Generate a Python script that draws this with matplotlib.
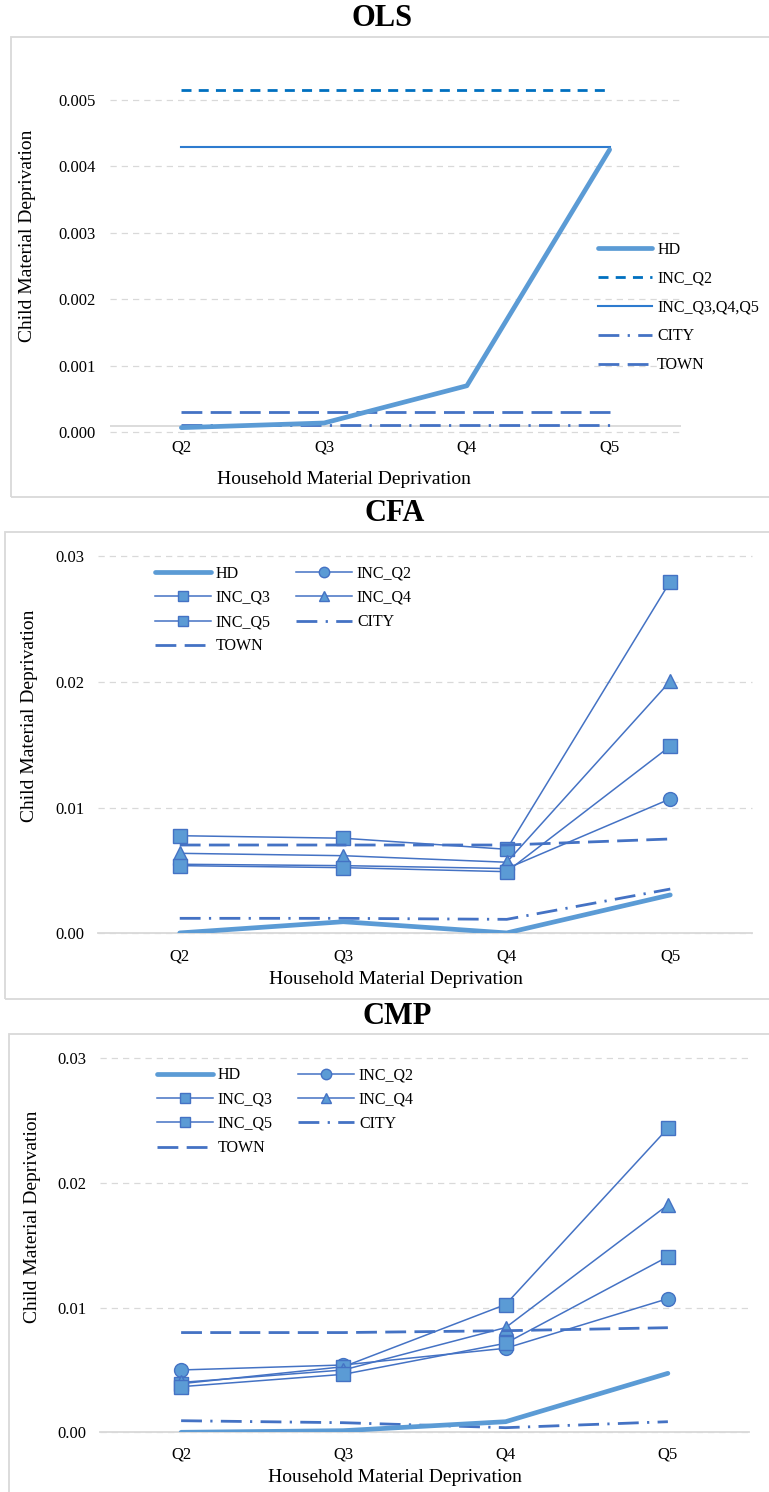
import matplotlib
matplotlib.use("Agg")
import matplotlib.pyplot as plt
from matplotlib.patches import Rectangle

plt.rcParams["font.family"] = ["Liberation Serif", "DejaVu Serif"]

W, H = 769, 1492

quintiles = ["Q2", "Q3", "Q4", "Q5"]

# OLS estimates
ols_hd = [-0.00003, 0.00004, 0.00060, 0.00415]
ols_inc_q2 = [0.00505, 0.00505, 0.00505, 0.00505]
ols_inc_q345 = [0.00419, 0.00419, 0.00419, 0.00419]
ols_city = [0.00001, 0.00001, 0.00001, 0.00001]
ols_town = [0.00020, 0.00020, 0.00020, 0.00020]
ols_ticks = [-0.0001, 0.0009, 0.0019, 0.0029, 0.0039, 0.0049]
ols_tick_labels = ["0.000", "0.001", "0.002", "0.003", "0.004", "0.005"]

# CFA estimates
cfa_hd = [0.00003, 0.00092, 0.00003, 0.00305]
cfa_inc_q2 = [0.00549, 0.00538, 0.00515, 0.01069]
cfa_inc_q3 = [0.00776, 0.00756, 0.00668, 0.02797]
cfa_inc_q4 = [0.00636, 0.00617, 0.00565, 0.02005]
cfa_inc_q5 = [0.00538, 0.00522, 0.00490, 0.01488]
cfa_city = [0.00119, 0.00119, 0.00111, 0.00352]
cfa_town = [0.00702, 0.00702, 0.00702, 0.00750]

# CMP estimates
cmp_hd = [0.00000, 0.00013, 0.00085, 0.00473]
cmp_inc_q2 = [0.00500, 0.00540, 0.00674, 0.01072]
cmp_inc_q3 = [0.00390, 0.00526, 0.01025, 0.02439]
cmp_inc_q4 = [0.00400, 0.00500, 0.00840, 0.01824]
cmp_inc_q5 = [0.00366, 0.00465, 0.00714, 0.01409]
cmp_city = [0.00093, 0.00077, 0.00037, 0.00085]
cmp_town = [0.00800, 0.00800, 0.00815, 0.00839]

prob_ticks = [0.00, 0.01, 0.02, 0.03]
prob_tick_labels = ["0.00", "0.01", "0.02", "0.03"]

HD_C = "#5B9BD5"
DARK = "#4472C4"
GRID = "#D9D9D9"

TICK_FS = 12
LABEL_FS = 14
LEG_FS = 11.5
TITLE_FS = 22


def fx(x):
    return x / W


def fy(y):
    return 1 - y / H


def add_axes_px(fig, x0, x1, ytop, ybot):
    return fig.add_axes([fx(x0), fy(ybot), (x1 - x0) / W, (ybot - ytop) / H])


def style_axes(ax, ticks, labels, ylim, xpad, show_bottom):
    ax.set_xlim(-0.5, 3.5)
    ax.set_ylim(*ylim)
    ax.set_xticks(range(len(quintiles)), quintiles)
    ax.set_yticks(ticks, labels)
    ax.tick_params(axis="both", length=0, labelsize=TICK_FS, colors="black")
    ax.tick_params(axis="x", pad=xpad)
    ax.tick_params(axis="y", pad=10)
    for side in ["top", "left", "right"]:
        ax.spines[side].set_visible(False)
    if show_bottom:
        ax.spines["bottom"].set_color(GRID)
        ax.spines["bottom"].set_linewidth(1.3)
        ax.spines["bottom"].set_zorder(1)
    else:
        ax.spines["bottom"].set_visible(False)
    ax.yaxis.grid(True, color=GRID, linewidth=0.9, linestyle=(0, (5, 4)))
    ax.set_axisbelow(True)
    for gl in ax.get_ygridlines():
        gl.set_clip_on(False)
    ax.patch.set_alpha(0)


def frame(fig, x0, y0, x1, y1):
    fig.patches.append(Rectangle((fx(x0), fy(y1)), (x1 - x0) / W, (y1 - y0) / H,
                                 transform=fig.transFigure, fill=False,
                                 edgecolor=GRID, linewidth=1.3, zorder=0))


fig = plt.figure(figsize=(W / 100, H / 100), dpi=100)
fig.patch.set_facecolor("white")

xs = range(len(quintiles))

# ---------------- OLS ----------------
frame(fig, 11, 37, 775, 497)
ax1 = add_axes_px(fig, 110, 681, 59.9, 432.3)
style_axes(ax1, ols_ticks, ols_tick_labels, (-0.0001, 0.0055), 5, False)
ax1.axhline(0, color=GRID, linewidth=1.3, zorder=1)
l_hd, = ax1.plot(xs, ols_hd, color=HD_C, lw=3.4, solid_capstyle="round",
                 solid_joinstyle="round", zorder=5, label="HD")
l_q2, = ax1.plot(xs, ols_inc_q2, color="#0070C0", lw=2.0, ls=(0, (3.6, 2.6)),
                 zorder=4, label="INC_Q2")
l_q345, = ax1.plot(xs, ols_inc_q345, color="#2E7BCF", lw=1.5, zorder=4,
                   label="INC_Q3,Q4,Q5")
l_city, = ax1.plot(xs, ols_city, color=DARK, lw=2.0, ls=(0, (7.5, 3, 0.8, 3)),
                   zorder=4, label="CITY")
l_town, = ax1.plot(xs, ols_town, color=DARK, lw=2.0, ls=(0, (7.5, 3)),
                   zorder=4, label="TOWN")
fig.legend(handles=[l_hd, l_q2, l_q345, l_city, l_town], loc="center left",
           bbox_to_anchor=(fx(598), fy(307.6)), frameon=False, fontsize=LEG_FS,
           handlelength=3.4, handletextpad=0.3, labelspacing=0.8,
           borderpad=0, borderaxespad=0)
fig.text(fx(382), fy(18), "OLS", ha="center", va="center", fontsize=TITLE_FS,
         fontweight="bold")
fig.text(fx(28), fy(236), "Child Material Deprivation", rotation=90,
         ha="center", va="center", fontsize=LABEL_FS)
fig.text(fx(344), fy(480), "Household Material Deprivation", ha="center",
         va="center", fontsize=LABEL_FS)


def prob_panel(ax, hd, q2, q3, q4, q5, city, town, leg_x, leg_y):
    h_hd, = ax.plot(xs, hd, color=HD_C, lw=3.4, solid_capstyle="round",
                    solid_joinstyle="round", zorder=5, label="HD")
    mk = dict(color=DARK, lw=1.1, markersize=10, markerfacecolor=HD_C,
              markeredgecolor=DARK, markeredgewidth=1.0, zorder=4, clip_on=False)
    h_q2, = ax.plot(xs, q2, marker="o", label="INC_Q2", **mk)
    h_q3, = ax.plot(xs, q3, marker="s", label="INC_Q3", **mk)
    h_q4, = ax.plot(xs, q4, marker="^", label="INC_Q4", **mk)
    h_q5, = ax.plot(xs, q5, marker="s", label="INC_Q5", **mk)
    h_city, = ax.plot(xs, city, color=DARK, lw=2.0, ls=(0, (7.5, 3, 0.8, 3)),
                      zorder=4, label="CITY")
    h_town, = ax.plot(xs, town, color=DARK, lw=2.0, ls=(0, (7.5, 3)),
                      zorder=4, label="TOWN")
    order = [h_hd, h_q3, h_q5, h_town, h_q2, h_q4, h_city]
    fig.legend(handles=order, ncol=2, loc="center left",
               bbox_to_anchor=(fx(leg_x), fy(leg_y)), frameon=False,
               fontsize=LEG_FS, handlelength=3.5, handletextpad=0.3,
               labelspacing=0.52, columnspacing=1.6, borderpad=0,
               borderaxespad=0, markerscale=0.75)


# ---------------- CFA ----------------
frame(fig, 5, 532, 775, 999)
ax2 = add_axes_px(fig, 98, 752, 556, 933.3)
style_axes(ax2, prob_ticks, prob_tick_labels, (0, 0.03), 11, True)
prob_panel(ax2, cfa_hd, cfa_inc_q2, cfa_inc_q3, cfa_inc_q4, cfa_inc_q5,
           cfa_city, cfa_town, 155, 610)
fig.text(fx(395), fy(513), "CFA", ha="center", va="center", fontsize=TITLE_FS,
         fontweight="bold")
fig.text(fx(29.5), fy(716), "Child Material Deprivation", rotation=90,
         ha="center", va="center", fontsize=LABEL_FS)
fig.text(fx(396), fy(980), "Household Material Deprivation", ha="center",
         va="center", fontsize=LABEL_FS)

# ---------------- CMP ----------------
frame(fig, 9, 1034, 775, 1500)
ax3 = add_axes_px(fig, 100, 749, 1058.3, 1432.3)
style_axes(ax3, prob_ticks, prob_tick_labels, (0, 0.03), 10, True)
prob_panel(ax3, cmp_hd, cmp_inc_q2, cmp_inc_q3, cmp_inc_q4, cmp_inc_q5,
           cmp_city, cmp_town, 157, 1111.7)
fig.text(fx(397), fy(1017), "CMP", ha="center", va="center", fontsize=TITLE_FS,
         fontweight="bold")
fig.text(fx(33), fy(1217), "Child Material Deprivation", rotation=90,
         ha="center", va="center", fontsize=LABEL_FS)
fig.text(fx(395), fy(1478), "Household Material Deprivation", ha="center",
         va="center", fontsize=LABEL_FS)

fig.savefig("out.png", dpi=100, facecolor="white")
